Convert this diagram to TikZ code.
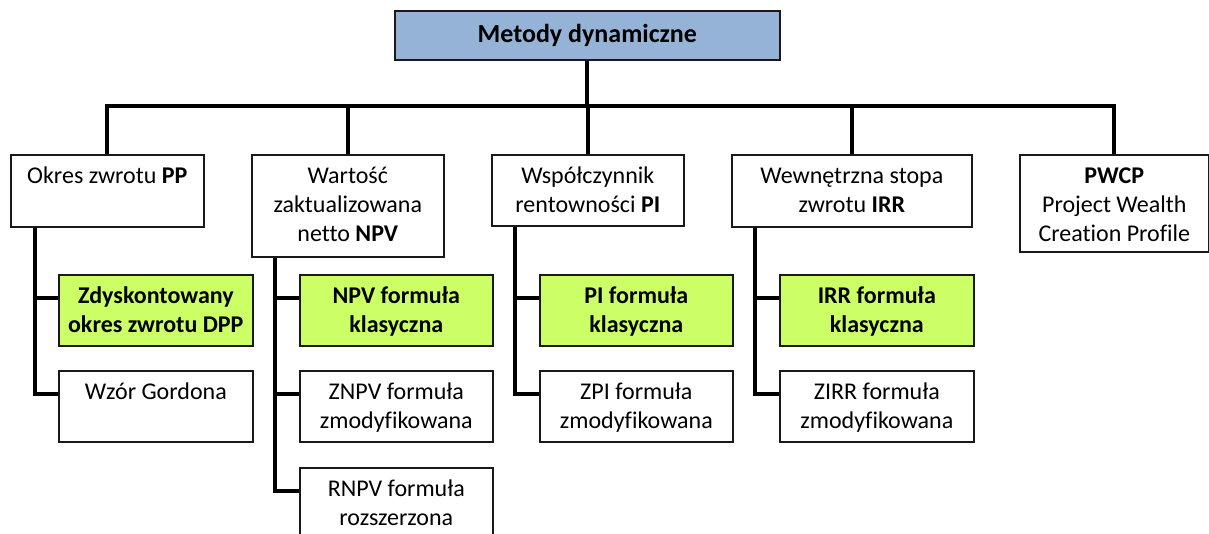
\documentclass[tikz,border=0pt]{standalone}
\usepackage{fontspec}
\setmainfont{Carlito}[Ligatures=NoCommon]
\definecolor{topblue}{HTML}{95B3D7}
\definecolor{limegreen}{HTML}{CCFF66}
\newcommand\mybox[7]{%
  \node[#6, anchor=north west, minimum width=#4-#2, minimum height=#5-#3] (#1) at (#2,#3) {};
  \node[txt, anchor=north] (#1t) at ([yshift=-8.5pt]#1.north) {\strut #7};
}
\begin{document}
\begin{tikzpicture}[x=1pt,y=-1pt,
  box/.style={draw=black!90, line width=1.6pt, fill=white, inner sep=0pt},
  greenbox/.style={box, fill=limegreen},
  txt/.style={font=\fontsize{24}{29.3}\selectfont, align=center, inner sep=0pt},
  conn/.style={draw=black, line width=4pt, line join=miter}]
\clip (0,0) rectangle (1209,533);
\useasboundingbox (0,0) rectangle (1209,533);
% top
\node[box, fill=topblue, anchor=north west, minimum width=385, minimum height=49,
      font=\fontsize{26}{31}\selectfont\bfseries] (top) at (394,10) {Metody dynamiczne};
\coordinate (bar) at (0,106);
% level 1
\mybox{okres}{10}{154}{203}{226}{box}{Okres zwrotu \textbf{PP}}
\mybox{npv}{251}{154}{443}{256}{box}{Wartość\\zaktualizowana\\netto \textbf{NPV}}
\mybox{pi}{491}{154}{683}{225}{box}{Współczynnik\\rentowności \textbf{PI}}
\mybox{irr}{731}{154}{971}{226}{box}{Wewnętrzna stopa\\zwrotu \textbf{IRR}}
\mybox{pwcp}{1019}{154}{1208}{251}{box}{\textbf{PWCP}\\Project Wealth\\Creation Profile}
% level 2
\mybox{dpp}{58}{274}{252}{345}{greenbox}{\bfseries Zdyskontowany\\\bfseries okres zwrotu DPP}
\mybox{npvk}{299}{274}{492}{345}{greenbox}{\bfseries NPV formuła\\\bfseries klasyczna}
\mybox{pik}{539}{274}{732}{345}{greenbox}{\bfseries PI formuła\\\bfseries klasyczna}
\mybox{irrk}{779}{274}{973}{345}{greenbox}{\bfseries IRR formuła\\\bfseries klasyczna}
% level 3
\mybox{gordon}{58}{370}{252}{441}{box}{Wzór Gordona}
\mybox{znpv}{299}{370}{492}{441}{box}{ZNPV formuła\\zmodyfikowana}
\mybox{zpi}{539}{370}{732}{441}{box}{ZPI formuła\\zmodyfikowana}
\mybox{zirr}{779}{370}{973}{441}{box}{ZIRR formuła\\zmodyfikowana}
% level 4
\mybox{rnpv}{299}{467}{492}{545}{box}{RNPV formuła\\rozszerzona}
% tree connectors
\draw[conn] (top.south) -- (top.south |- bar);
\draw[conn] (okres.north) |- (pwcp.north |- bar) -- (pwcp.north);
\draw[conn] (npv.north) -- (npv.north |- bar);
\draw[conn] (pi.north) -- (pi.north |- bar);
\draw[conn] (irr.north) -- (irr.north |- bar);
% side connectors
\draw[conn] ([xshift=25pt]okres.south west) |- ([yshift=-24pt]gordon.north west);
\draw[conn] ([xshift=25pt]okres.south west |- dpp.north west) ++(0,24) -- ([yshift=-24pt]dpp.north west);
\draw[conn] ([xshift=24pt]npv.south west) |- ([yshift=-24pt]rnpv.north west);
\draw[conn] ([xshift=24pt]npv.south west |- npvk.north west) ++(0,24) -- ([yshift=-24pt]npvk.north west);
\draw[conn] ([xshift=24pt]npv.south west |- znpv.north west) ++(0,24) -- ([yshift=-24pt]znpv.north west);
\draw[conn] ([xshift=24pt]pi.south west) |- ([yshift=-24pt]zpi.north west);
\draw[conn] ([xshift=24pt]pi.south west |- pik.north west) ++(0,24) -- ([yshift=-24pt]pik.north west);
\draw[conn] ([xshift=24pt]irr.south west) |- ([yshift=-24pt]zirr.north west);
\draw[conn] ([xshift=24pt]irr.south west |- irrk.north west) ++(0,24) -- ([yshift=-24pt]irrk.north west);
\end{tikzpicture}
\end{document}
